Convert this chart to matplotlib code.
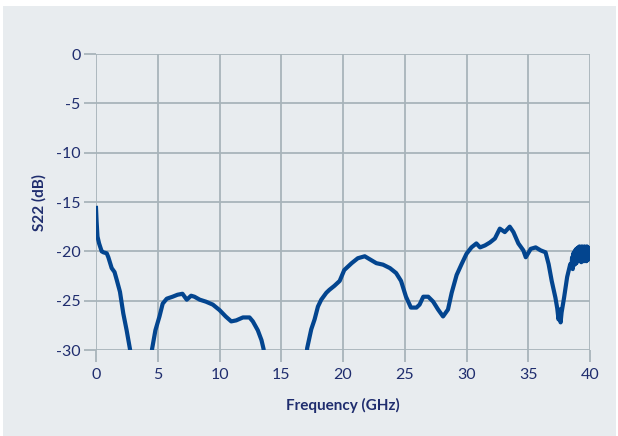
"""S22 output return loss versus frequency."""

import matplotlib.pyplot as plt
from matplotlib.patches import Rectangle

LINE_COLOR = "#03458f"
TEXT_COLOR = "#1f2d6e"
GRID_COLOR = "#a8b4ba"
PANEL_COLOR = "#e8ecef"

# Measured trace, split where it drops below the -30 dB floor.
freq_a = [0.0, 0.05, 0.12, 0.25, 0.46, 0.6, 0.87, 1.0, 1.27, 1.5, 1.68, 1.94, 2.21, 2.48, 2.75, 2.82]
s22_a = [-15.6, -17.0, -18.5, -19.2, -20.0, -20.1, -20.2, -20.6, -21.7, -22.1, -22.9, -24.1, -26.3, -28.0, -29.9, -30.5]

freq_b = [4.5, 4.54, 4.81, 5.14, 5.4, 5.73, 6.2, 6.6, 7.0, 7.35, 7.7, 7.97, 8.4, 8.9, 9.46, 10.0,
          10.5, 10.95, 11.35, 11.9, 12.43, 12.7, 13.1, 13.4, 13.57, 13.6]
s22_b = [-30.5, -29.9, -28.0, -26.6, -25.3, -24.8, -24.6, -24.4, -24.3, -24.9, -24.5, -24.6, -24.9,
         -25.1, -25.4, -25.95, -26.6, -27.1, -27.0, -26.7, -26.7, -27.1, -28.0, -29.0, -29.9, -30.5]

freq_c = [17.05, 17.1, 17.43, 17.7, 17.97, 18.24, 18.65, 18.9, 19.3, 19.73, 20.1, 20.7, 21.2, 21.76,
          22.16, 22.7, 23.24, 23.8, 24.3, 24.7, 25.1, 25.5, 25.95, 26.2, 26.5, 26.9, 27.3, 27.7, 28.1,
          28.5, 28.8, 29.2, 29.6, 30.0, 30.4, 30.8, 31.1, 31.5, 31.9, 32.3, 32.7, 33.1, 33.5, 33.8,
          34.2, 34.6, 34.8, 35.2, 35.6, 36.0, 36.4, 36.65, 36.9, 37.2, 37.35, 37.45, 37.55, 37.62,
          37.7, 37.9, 38.15, 38.4,
          38.5, 38.55, 38.6, 38.65, 38.7, 38.75, 38.8, 38.85, 38.9, 38.95, 39.0, 39.05, 39.1, 39.15,
          39.2, 39.25, 39.3, 39.35, 39.4, 39.45, 39.5, 39.55, 39.6, 39.65, 39.7, 39.75, 39.8, 39.85,
          39.9, 39.95, 40.0]
s22_c = [-30.5, -29.8, -27.9, -26.9, -25.6, -24.9, -24.2, -23.9, -23.5, -23.0, -21.9, -21.2, -20.7,
         -20.5, -20.8, -21.2, -21.35, -21.7, -22.2, -23.0, -24.6, -25.7, -25.7, -25.4, -24.6, -24.6,
         -25.1, -25.9, -26.6, -25.9, -24.2, -22.4, -21.3, -20.25, -19.6, -19.2, -19.6, -19.4, -19.1,
         -18.7, -17.7, -18.05, -17.5, -18.05, -19.2, -19.9, -20.6, -19.75, -19.6, -19.9, -20.1,
         -21.3, -23.0, -24.7, -25.8, -26.9, -25.9, -27.2, -26.2, -24.7, -22.6, -21.3,
         -21.6, -20.6, -21.8, -20.2, -21.4, -20.0, -21.3, -19.8, -21.2, -19.7, -21.0, -19.6, -20.9,
         -19.5, -21.0, -19.6, -21.1, -19.5, -20.9, -19.6, -21.0, -19.5, -20.8, -19.6, -21.0, -19.5,
         -20.9, -19.6, -20.8, -19.7, -19.8]

X_TICKS = [0, 5, 10, 15, 20, 25, 30, 35, 40]
Y_TICKS = [0, -5, -10, -15, -20, -25, -30]

plt.rcParams["font.family"] = ["Lato", "DejaVu Sans"]

fig = plt.figure(figsize=(6.18, 4.36), dpi=100)
fig.patch.set_facecolor("white")
fig.add_artist(Rectangle((3 / 618, 0), 613 / 618, 430 / 436, transform=fig.transFigure,
                         facecolor=PANEL_COLOR, edgecolor="none", zorder=-10))

ax = fig.add_axes([96 / 618, 1 - 350 / 436, 494 / 618, 296 / 436])
ax.set_facecolor(PANEL_COLOR)

for f, s in [(freq_a, s22_a), (freq_b, s22_b), (freq_c, s22_c)]:
    ax.plot(f, s, color=LINE_COLOR, lw=3.0, solid_joinstyle="round", zorder=3)

ax.set_xlim(0, 40)
ax.set_ylim(-30, 0)
ax.set_xticks(X_TICKS)
ax.set_yticks(Y_TICKS)
ax.set_xticklabels([str(t) for t in X_TICKS])
ax.set_yticklabels([str(t) for t in Y_TICKS])
ax.grid(True, color=GRID_COLOR, lw=1.3)
ax.set_axisbelow(True)
for side in ax.spines.values():
    side.set_visible(False)
ax.tick_params(axis="both", colors=GRID_COLOR, labelcolor=TEXT_COLOR, labelsize=11.5,
               length=8.6, width=1.3)
ax.tick_params(axis="y", pad=2.5)
ax.tick_params(axis="x", pad=4.5)

ax.set_xlabel("Frequency (GHz)", color=TEXT_COLOR, fontsize=11, fontweight="bold", labelpad=11)
ax.set_ylabel("S22 (dB)", color=TEXT_COLOR, fontsize=11, fontweight="bold", labelpad=7)

fig.savefig("out.png", dpi=100)
